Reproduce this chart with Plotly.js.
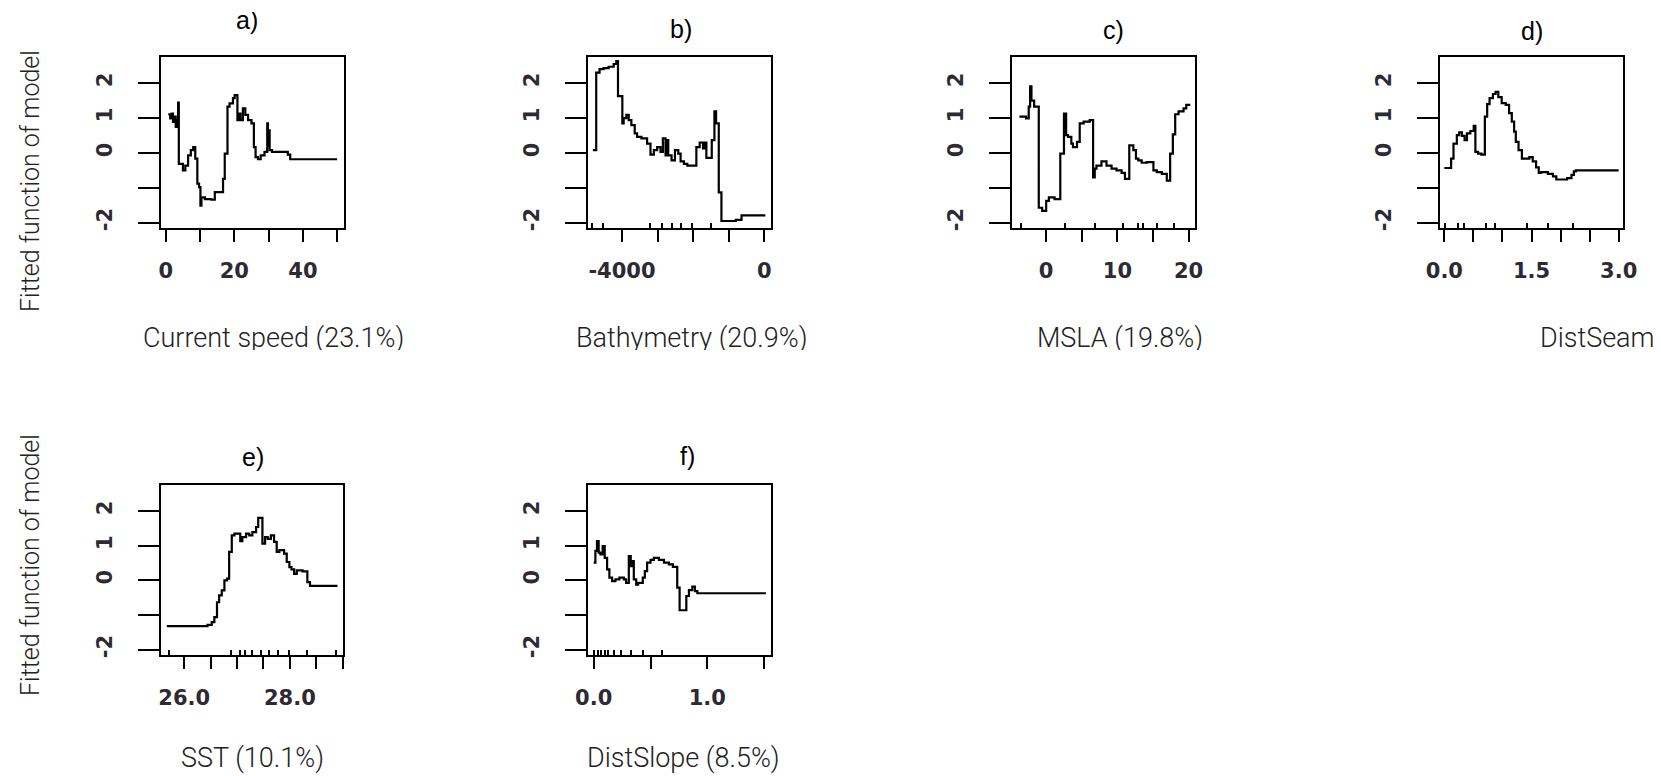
<!DOCTYPE html>
<html><head><meta charset="utf-8">
<script src="https://cdn.plot.ly/plotly-3.0.1.min.js"></script>
<style>
html,body{margin:0;padding:0;background:#fff;overflow:hidden}
#wrap{position:relative;width:1661px;height:776px}
#chart{width:1661px;height:776px}
.mask{position:absolute;background:#fff}
</style>
</head><body>
<div id="wrap"><div id="chart"></div>
<div class="mask" style="left:0;top:350px;width:1661px;height:14px"></div>
<div class="mask" style="left:215px;top:0;width:70px;height:12px"></div>
</div>
<script>
// ---------- data ----------
const panelLabels = ['a)', 'b)', 'c)', 'd)', 'e)', 'f)'];
const xTitles = ['Current speed (23.1%)', 'Bathymetry (20.9%)', 'MSLA (19.8%)', 'DistSeam', 'SST (10.1%)', 'DistSlope (8.5%)'];
const yTitle = 'Fitted function of model';
const yTickVals = [-2, -1, 0, 1, 2];
const yTickText = ['-2', '', '0', '1', '2'];

const currentX = [0.7,1.3,1.7,2.1,2.5,2.9,3.2,3.6,3.8,5.0,5.7,6.5,7.3,8.0,8.6,9.2,9.7,10.1,10.4,11.4,13.3,14.3,16.7,17.2,18.0,18.6,19.6,20.1,20.9,21.3,21.8,22.5,23.2,24.0,25.0,25.7,26.2,26.9,27.7,28.8,29.6,29.8,30.0,30.3,31.0,35.6,36.3,50.0];
const currentY = [1.11,0.99,1.13,0.89,1.04,0.75,0.94,1.44,-0.31,-0.5,-0.36,-0.07,0.08,0.17,-0.16,-0.88,-0.98,-1.51,-1.27,-1.32,-1.34,-1.12,-0.74,-0.02,1.33,1.42,1.57,1.66,0.94,1.13,0.94,1.28,1.09,0.94,0.85,0.17,-0.12,-0.18,-0.07,0.03,0.85,0.22,0.65,0.08,0.03,-0.05,-0.18,-0.18];
const currentRug = [];
const currentTicks = [0, 10, 20, 30, 40, 50];
const currentTickText = ['0', '', '20', '', '40', ''];

const bathyX = [-4818,-4724,-4630,-4517,-4375,-4234,-4160,-4112,-3990,-3953,-3877,-3811,-3736,-3642,-3576,-3453,-3294,-3199,-3105,-3011,-2917,-2851,-2776,-2738,-2700,-2607,-2512,-2418,-2352,-2258,-2164,-1910,-1816,-1722,-1675,-1628,-1477,-1402,-1355,-1280,-1205,-800,-640,30];
const bathyY = [0.08,2.3,2.4,2.43,2.47,2.55,2.63,1.63,0.85,1.0,1.09,0.94,0.8,0.56,0.46,0.42,0.27,-0.05,0.08,0.17,0.03,0.42,-0.07,0.37,-0.07,-0.21,0.08,-0.02,-0.24,-0.31,-0.36,0.17,0.30,0.13,0.3,-0.14,0.37,1.19,0.85,-1.13,-1.95,-1.92,-1.79,-1.79];
const bathyRug = [-4846,-4545,-3199,-2870,-2607,-2352,-2023,-1506];
const bathyTicks = [-4000, -3000, -2000, -1000, 0];
const bathyTickText = ['-4000', '', '', '', '0'];

const mslaX = [-3.76,-2.82,-2.45,-2.26,-2.07,-1.69,-1.04,-0.56,0,0.38,1.18,1.98,2.5,2.8,3.06,3.53,3.76,4.33,4.71,5.27,6.12,6.59,6.82,7.06,7.76,8.47,9.18,9.88,10.59,11.06,11.67,12.24,12.61,12.94,13.41,14.12,15.06,15.53,16.24,16.94,17.41,17.79,18.12,18.59,19.29,19.67,20.24];
const mslaY = [1.04,0.99,1.33,1.91,1.5,1.33,-1.57,-1.66,-1.37,-1.27,-1.32,-0.02,1.13,0.51,0.46,0.27,0.17,0.32,0.85,0.9,0.94,-0.7,-0.45,-0.36,-0.24,-0.36,-0.45,-0.5,-0.57,-0.74,0.22,0.08,-0.16,-0.21,-0.28,-0.26,-0.5,-0.55,-0.6,-0.79,-0.02,0.53,1.11,1.19,1.28,1.38,1.38];
const mslaRug = [-3.5,2.6,6.8,10.8,12.9,13.6,15.5,17.9];
const mslaTicks = [0, 5, 10, 15, 20];
const mslaTickText = ['0', '', '10', '', '20'];

const seamX = [0,0.116,0.157,0.215,0.255,0.302,0.348,0.389,0.447,0.505,0.534,0.58,0.638,0.697,0.737,0.778,0.836,0.882,0.929,0.987,1.056,1.114,1.161,1.201,1.23,1.277,1.335,1.463,1.521,1.579,1.625,1.666,1.782,1.869,1.927,2.113,2.188,2.229,2.264,3.0];
const seamY = [-0.43,-0.16,0.27,0.51,0.59,0.49,0.37,0.56,0.63,0.78,0.03,-0.02,-0.05,1.04,1.4,1.57,1.69,1.75,1.6,1.43,1.38,1.14,0.9,0.61,0.32,0.08,-0.16,-0.12,-0.24,-0.41,-0.57,-0.55,-0.6,-0.67,-0.76,-0.72,-0.63,-0.53,-0.5,-0.5];
const seamRug = [0.01,0.23,0.33,0.71,0.88,1.42,1.78,2.22];
const seamTicks = [0, 0.5, 1, 1.5, 2, 2.5, 3];
const seamTickText = ['0.0', '', '', '1.5', '', '', '3.0'];

const sstX = [25.67,26.44,26.52,26.57,26.62,26.66,26.71,26.76,26.81,26.85,26.9,26.95,27.06,27.1,27.17,27.23,27.29,27.36,27.4,27.48,27.53,27.58,27.64,27.7,27.75,27.8,27.89,27.94,27.99,28.03,28.08,28.13,28.24,28.33,28.38,28.9];
const sstY = [-1.32,-1.28,-1.2,-1.06,-0.63,-0.43,-0.29,0.0,0.05,0.82,1.3,1.35,1.13,1.25,1.35,1.3,1.39,1.54,1.8,1.06,1.25,1.2,1.3,1.11,0.82,0.87,0.77,0.53,0.38,0.32,0.19,0.29,0.26,-0.05,-0.16,-0.16];
const sstRug = [25.72,26.88,27.06,27.15,27.29,27.46,27.61,27.77,27.99,28.33,28.87];
const sstTicks = [26, 26.5, 27, 27.5, 28, 28.5, 29];
const sstTickText = ['26.0', '', '', '', '28.0', '', ''];

const slopeX = [0,0.015,0.029,0.044,0.059,0.079,0.097,0.118,0.138,0.162,0.191,0.226,0.265,0.285,0.309,0.326,0.338,0.353,0.374,0.391,0.432,0.45,0.47,0.5,0.529,0.574,0.618,0.662,0.697,0.735,0.756,0.815,0.838,0.868,0.891,0.912,1.515];
const slopeY = [0.51,0.85,1.13,0.8,0.75,0.99,0.65,0.32,0.08,-0.02,0.03,0.08,0.03,-0.07,0.7,0.41,0.56,0.03,-0.12,-0.07,0.08,0.27,0.51,0.59,0.65,0.59,0.51,0.46,0.39,-0.21,-0.86,-0.45,-0.28,-0.18,-0.31,-0.37,-0.37];
const slopeRug = [0.0,0.038,0.068,0.097,0.126,0.176,0.244,0.332,0.435,0.603];
const slopeTicks = [0, 0.5, 1, 1.5];
const slopeTickText = ['0.0', '', '1.0', ''];

// ---------- layout helpers ----------
const W = 1661, H = 776;
const series = [
  [currentX, currentY, currentRug, currentTicks, currentTickText],
  [bathyX, bathyY, bathyRug, bathyTicks, bathyTickText],
  [mslaX, mslaY, mslaRug, mslaTicks, mslaTickText],
  [seamX, seamY, seamRug, seamTicks, seamTickText],
  [sstX, sstY, sstRug, sstTicks, sstTickText],
  [slopeX, slopeY, slopeRug, slopeTicks, slopeTickText]
];
const boxes = [[161,344,57,228],[588,771,57,228],[1012,1195,57,228],[1440,1623,57,228],[161,343,485,655],[588,771,485,655]];
const xRanges = [[-1.4,52.0],[-4955,188],[-4.8,20.9],[-0.075,3.075],[25.56,29.005],[-0.05,1.56]];
const yRange = [-2.15, 2.75];
const titlePos = [[247,20],[681,29],[1113,30],[1532,31],[253,457],[687,456]];
const xTitlePos = [[273,338,'center'],[692,338,'center'],[1120,338,'center'],[1538,338,'left'],[252,758,'center'],[683,758,'center']];
const yTitlePos = [[30,181],[30,565]];

const px = v => v / W;
const py = v => 1 - v / H;

const tickFont = {family: 'DejaVu Sans', size: 21, weight: 'bold', color: '#2e2a33'};
const titleFont = {family: 'Roboto', size: 27, weight: 300, color: '#222'};
const yTitleFont = {family: 'Roboto', size: 25, weight: 300, color: '#222'};

const traces = [];
const layout = {
  width: W, height: H,
  margin: {l: 0, r: 0, t: 0, b: 0},
  paper_bgcolor: '#fff', plot_bgcolor: '#fff',
  showlegend: false,
  annotations: []
};

series.forEach((s, i) => {
  const n = i + 1;
  const sx = n === 1 ? '' : String(n);
  traces.push({
    type: 'scatter', mode: 'lines',
    x: s[0], y: s[1],
    xaxis: 'x' + sx, yaxis: 'y' + sx,
    line: {color: '#000', width: 2.2, shape: 'hv'},
    hoverinfo: 'skip'
  });
  const b = boxes[i];
  layout['xaxis' + sx] = {
    domain: [px(b[0]), px(b[1])],
    anchor: 'y' + sx,
    range: xRanges[i],
    showgrid: false, zeroline: false,
    showline: true, mirror: true, linecolor: '#000', linewidth: 2,
    ticks: 'outside', ticklen: 12, tickwidth: 2, tickcolor: '#000',
    tickmode: 'array', tickvals: s[3], ticktext: s[4],
    tickfont: tickFont, tickangle: 0,
    ticklabelstandoff: 11,
    minor: s[2].length ? {ticks: 'inside', tickmode: 'array', tickvals: s[2], ticklen: 5, tickwidth: 2, tickcolor: '#000', showgrid: false} : {ticks: ''},
    automargin: false, fixedrange: true
  };
  layout['yaxis' + sx] = {
    domain: [py(b[3]), py(b[2])],
    anchor: 'x' + sx,
    range: yRange,
    showgrid: false, zeroline: false,
    showline: true, mirror: true, linecolor: '#000', linewidth: 2,
    ticks: 'outside', ticklen: 21, tickwidth: 2, tickcolor: '#000',
    tickmode: 'array', tickvals: yTickVals, ticktext: yTickText,
    tickfont: tickFont, tickangle: -90,
    ticklabelstandoff: 18,
    automargin: false, fixedrange: true
  };
  layout.annotations.push({
    text: panelLabels[i], xref: 'paper', yref: 'paper',
    x: px(titlePos[i][0]), y: py(titlePos[i][1]),
    xanchor: 'center', yanchor: 'middle', showarrow: false,
    font: {family: 'Liberation Sans', size: 25, color: '#000'}
  });
  layout.annotations.push({
    text: xTitles[i], xref: 'paper', yref: 'paper',
    x: px(xTitlePos[i][0]), y: py(xTitlePos[i][1]),
    xanchor: xTitlePos[i][2], yanchor: 'middle', showarrow: false,
    font: titleFont
  });
});

yTitlePos.forEach(p => {
  layout.annotations.push({
    text: yTitle, xref: 'paper', yref: 'paper',
    x: px(p[0]), y: py(p[1]), textangle: -90,
    xanchor: 'center', yanchor: 'middle', showarrow: false,
    font: yTitleFont
  });
});

Plotly.newPlot('chart', traces, layout, {staticPlot: true, displayModeBar: false});
</script>
</body></html>
